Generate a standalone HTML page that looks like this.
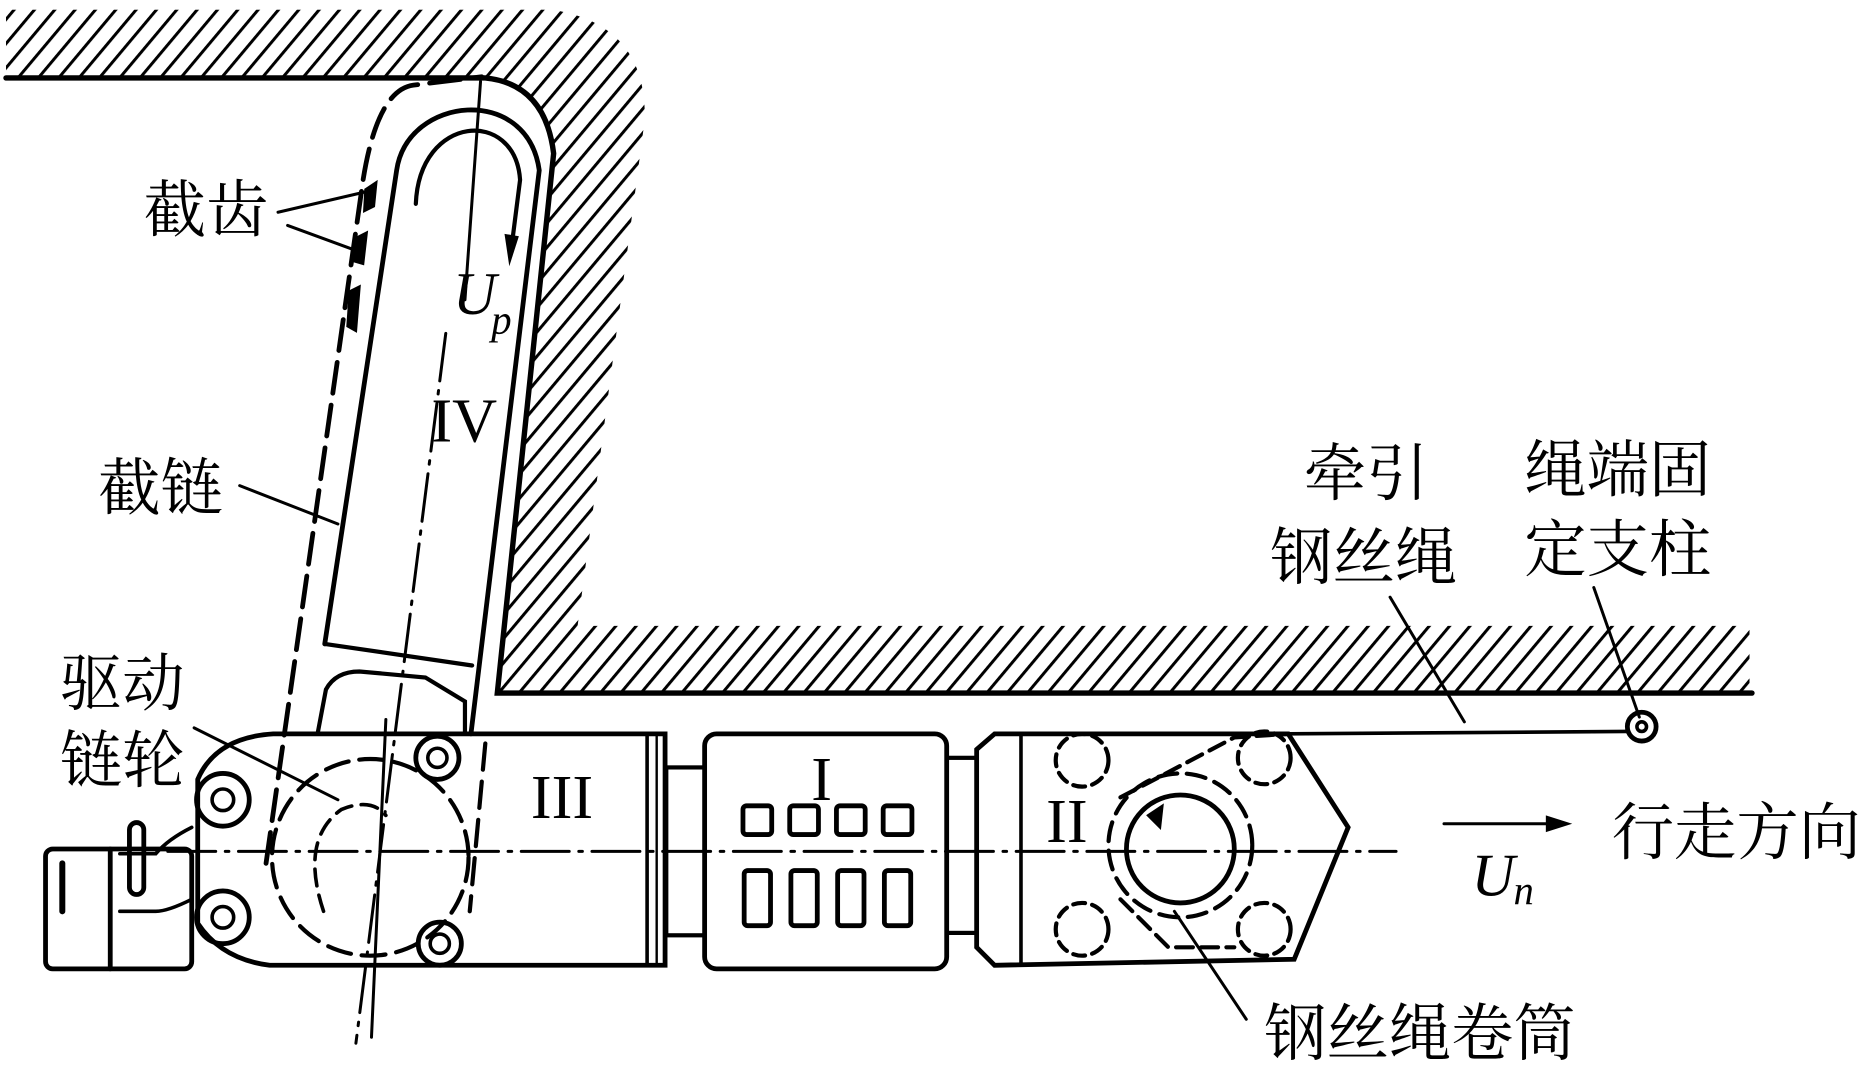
<!DOCTYPE html>
<html><head><meta charset="utf-8"><style>
html,body{margin:0;padding:0;background:#fff;}
svg{display:block}
.t{font-family:"Liberation Serif","Noto Serif CJK SC","Noto Sans CJK SC",serif;font-size:52px;fill:#000}
.r{font-family:"Liberation Serif",serif;fill:#000}
</style></head><body>
<svg width="1873" height="1066" viewBox="0 0 1563 889" preserveAspectRatio="none" xmlns="http://www.w3.org/2000/svg">
<defs>
<pattern id="h" width="13" height="13" patternUnits="userSpaceOnUse" patternTransform="rotate(40)">
<line x1="0" y1="0" x2="0" y2="13" stroke="#000" stroke-width="5"/>
</pattern>
<clipPath id="c"><path d="M5,8 L460,8 Q540,20 538,100 L482,522 L1460,522 L1460,578 L415,578 L462,128 Q455,70 405,65 L5,65 Z"/></clipPath>
</defs>
<rect x="0" y="0" width="1563" height="889" fill="url(#h)" clip-path="url(#c)"/>
<g fill="none" stroke="#000" stroke-linecap="round">
<path d="M5,65 L405,65 Q455,70 462,128 L415,578 L1462,578" stroke-width="4.5"/>
<path d="M222,720 L303,150 Q315,75 345,71 L402,64" stroke-width="4" stroke-dasharray="26,10"/>
<path d="M405,620 L392,760" stroke-width="3.5" stroke-dasharray="22,10"/>
<circle cx="309" cy="715" r="82" stroke-width="3.5" stroke-dasharray="20,9"/>
<path d="M270,760 Q250,700 285,675 Q310,665 322,680" stroke-width="3" stroke-dasharray="14,8"/>
<path d="M271,537 L331,142 C340,80 440,70 450,142 L393,612" stroke-width="4"/>
<path d="M271,537 L394,555" stroke-width="3.5"/>
<path d="M265,612 L272,575 Q280,560 300,560 L355,565 L388,585 L388,612" stroke-width="3.5"/>
<path d="M347,170 C350,95 430,90 434,150 L427,205" stroke-width="3.5"/>
<path d="M421,195 L433,197 L425,222 Z" fill="#000" stroke="none"/>
<path d="M401,68 L388,250" stroke-width="2.5"/>
<path d="M372,278 L297,870" stroke-width="2.5" stroke-dasharray="40,8,3,8"/>
<path d="M322,600 L310,865" stroke-width="2.5"/>
<path d="M305,158 L314,152 L312,172 L304,176 Z M298,198 L306,194 L303,220 L296,218 Z M292,243 L300,239 L297,276 L290,272 Z" fill="#000" stroke-width="2"/>
<path d="M228,612 L555,612 L555,805 L225,805 Q185,800 165,770 L165,650 Q180,615 228,612 Z" stroke-width="4"/>
<line x1="540" y1="612" x2="540" y2="805" stroke-width="3"/>
<line x1="548" y1="612" x2="548" y2="805" stroke-width="2"/>
<circle cx="186" cy="667" r="22" stroke-width="4"/><circle cx="186" cy="667" r="9" stroke-width="3"/>
<circle cx="186" cy="765" r="22" stroke-width="4"/><circle cx="186" cy="765" r="9" stroke-width="3"/>
<circle cx="365" cy="632" r="18" stroke-width="4"/><circle cx="365" cy="632" r="8" stroke-width="3"/>
<circle cx="367" cy="787" r="18" stroke-width="4"/><circle cx="367" cy="787" r="8" stroke-width="3"/>
<path d="M160,690 Q140,700 130,712 L100,712" stroke-width="3"/>
<path d="M160,750 Q140,760 130,760 L100,760" stroke-width="3"/>
<rect x="38" y="708" width="122" height="100" rx="6" stroke-width="4"/>
<line x1="92" y1="708" x2="92" y2="808" stroke-width="4"/>
<line x1="52" y1="720" x2="52" y2="760" stroke-width="5"/>
<rect x="108" y="686" width="12" height="60" rx="6" stroke-width="4"/>
<rect x="556" y="640" width="32" height="140" stroke-width="3.5"/>
<rect x="588" y="612" width="202" height="196" rx="10" stroke-width="4"/>
<rect x="620" y="672" width="24" height="24" rx="3" stroke-width="4"/>
<rect x="659" y="672" width="24" height="24" rx="3" stroke-width="4"/>
<rect x="698" y="672" width="24" height="24" rx="3" stroke-width="4"/>
<rect x="737" y="672" width="24" height="24" rx="3" stroke-width="4"/>
<rect x="621" y="726" width="22" height="46" rx="3" stroke-width="4"/>
<rect x="660" y="726" width="22" height="46" rx="3" stroke-width="4"/>
<rect x="699" y="726" width="22" height="46" rx="3" stroke-width="4"/>
<rect x="738" y="726" width="22" height="46" rx="3" stroke-width="4"/>
<rect x="790" y="632" width="25" height="146" stroke-width="3.5"/>
<path d="M815,625 L830,612 L1075,612 L1125,690 L1080,800 L830,805 L815,790 Z" stroke-width="4"/>
<line x1="852" y1="614" x2="852" y2="803" stroke-width="3"/>
<circle cx="903" cy="634" r="22" stroke-width="3.5" stroke-dasharray="10,6"/>
<circle cx="1055" cy="632" r="22" stroke-width="3.5" stroke-dasharray="10,6"/>
<circle cx="903" cy="775" r="22" stroke-width="3.5" stroke-dasharray="10,6"/>
<circle cx="1055" cy="775" r="22" stroke-width="3.5" stroke-dasharray="10,6"/>
<path d="M935,665 L1030,615 L1075,612 M935,750 L975,790 L1030,790" stroke-width="3.5" stroke-dasharray="14,7"/>
<circle cx="985" cy="705" r="60" stroke-width="3.5" stroke-dasharray="16,8"/>
<circle cx="985" cy="708" r="45" stroke-width="4"/>
<path d="M958,680 L970,672 L968,690 Z" fill="#000" stroke-width="2"/>
<line x1="140" y1="710" x2="1165" y2="710" stroke-width="2.5" stroke-dasharray="40,8,3,8"/>
<path d="M1075,612 L1358,610" stroke-width="3"/>
<circle cx="1370" cy="606" r="12" stroke-width="4"/>
<circle cx="1370" cy="606" r="4" stroke-width="3"/>
<path d="M232,177 L305,160 M240,188 L300,210" stroke-width="2.5"/>
<path d="M200,405 L282,437" stroke-width="2.5"/>
<path d="M162,607 L282,667" stroke-width="2.5"/>
<path d="M1160,498 L1222,602" stroke-width="2.5"/>
<path d="M1330,490 L1368,598" stroke-width="2.5"/>
<path d="M980,760 L1040,850" stroke-width="2.5"/>
<path d="M1205,687 L1300,687" stroke-width="2.5"/>
</g>
<path d="M1312,687 L1290,680 L1290,694 Z" fill="#000"/>
<text class="t" x="120" y="193">截齿</text>
<text class="t" x="82" y="425">截链</text>
<text class="t" x="50" y="588">驱动</text>
<text class="t" x="50" y="652">链轮</text>
<text class="t" x="1088" y="413">牵引</text>
<text class="t" x="1060" y="483">钢丝绳</text>
<text class="t" x="1272" y="410">绳端固</text>
<text class="t" x="1272" y="476">定支柱</text>
<text class="t" x="1345" y="712">行走方向</text>
<text class="t" x="1055" y="880">钢丝绳卷筒</text>
<text class="r" x="378" y="262" font-size="50" font-style="italic">U</text>
<text class="r" x="410" y="278" font-size="34" font-style="italic">p</text>
<text class="r" x="360" y="368" font-size="52">IV</text>
<text class="r" x="443" y="682" font-size="52">III</text>
<text class="r" x="677" y="667" font-size="52">I</text>
<text class="r" x="873" y="702" font-size="52">II</text>
<text class="r" x="1228" y="747" font-size="50" font-style="italic">U</text>
<text class="r" x="1263" y="754" font-size="34" font-style="italic">n</text>
</svg>
</body></html>
